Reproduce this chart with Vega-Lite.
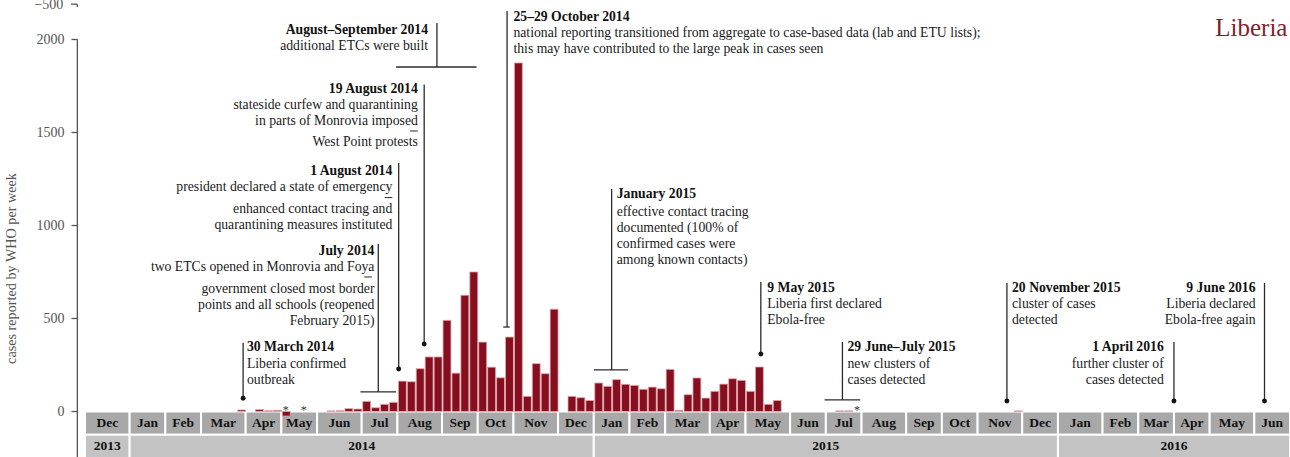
{
  "$schema": "https://vega.github.io/schema/vega-lite/v6.json",
  "width": 1205,
  "height": 457,
  "autosize": {"type": "none"},
  "padding": {"left": 85, "top": 0, "right": 0, "bottom": 0},
  "config": {"font": "Liberation Serif", "view": {"stroke": null}},
  "datasets": {
    "weekly": [
      {"week":"2014-03-30","cases":8},{"week":"2014-04-13","cases":10},{"week":"2014-04-20","cases":4},{"week":"2014-04-27","cases":6},
      {"week":"2014-05-04","cases":-25},{"week":"2014-06-08","cases":3},{"week":"2014-06-15","cases":4},{"week":"2014-06-22","cases":15},
      {"week":"2014-06-29","cases":13},{"week":"2014-07-06","cases":54},{"week":"2014-07-13","cases":20},{"week":"2014-07-20","cases":38},
      {"week":"2014-07-27","cases":49},{"week":"2014-08-03","cases":163},{"week":"2014-08-10","cases":160},{"week":"2014-08-17","cases":230},
      {"week":"2014-08-24","cases":293},{"week":"2014-08-31","cases":293},{"week":"2014-09-07","cases":490},{"week":"2014-09-14","cases":206},
      {"week":"2014-09-21","cases":625},{"week":"2014-09-28","cases":750},{"week":"2014-10-05","cases":373},{"week":"2014-10-12","cases":238},
      {"week":"2014-10-19","cases":181},{"week":"2014-10-26","cases":400},{"week":"2014-11-02","cases":1874},{"week":"2014-11-09","cases":81},
      {"week":"2014-11-16","cases":257},{"week":"2014-11-23","cases":203},{"week":"2014-11-30","cases":550},{"week":"2014-12-14","cases":81},
      {"week":"2014-12-21","cases":74},{"week":"2014-12-28","cases":59},{"week":"2015-01-04","cases":153},{"week":"2015-01-11","cases":135},
      {"week":"2015-01-18","cases":171},{"week":"2015-01-25","cases":146},{"week":"2015-02-01","cases":140},{"week":"2015-02-08","cases":119},
      {"week":"2015-02-15","cases":131},{"week":"2015-02-22","cases":122},{"week":"2015-03-01","cases":226},{"week":"2015-03-08","cases":6},
      {"week":"2015-03-15","cases":90},{"week":"2015-03-22","cases":180},{"week":"2015-03-29","cases":72},{"week":"2015-04-05","cases":108},
      {"week":"2015-04-12","cases":147},{"week":"2015-04-19","cases":176},{"week":"2015-04-26","cases":167},{"week":"2015-05-03","cases":108},
      {"week":"2015-05-10","cases":239},{"week":"2015-05-17","cases":38},{"week":"2015-05-24","cases":59},{"week":"2015-07-12","cases":3},
      {"week":"2015-07-19","cases":3},{"week":"2015-11-29","cases":3}
    ],
    "stars": [{"week":"2014-05-04"},{"week":"2014-05-18"},{"week":"2015-07-26"}],
    "months": [
      {"start":"2013-12-01","end":"2014-01-05","label":"Dec"},{"start":"2014-01-05","end":"2014-02-02","label":"Jan"},
      {"start":"2014-02-02","end":"2014-03-02","label":"Feb"},{"start":"2014-03-02","end":"2014-04-06","label":"Mar"},
      {"start":"2014-04-06","end":"2014-05-04","label":"Apr"},{"start":"2014-05-04","end":"2014-06-01","label":"May"},
      {"start":"2014-06-01","end":"2014-07-06","label":"Jun"},{"start":"2014-07-06","end":"2014-08-03","label":"Jul"},
      {"start":"2014-08-03","end":"2014-09-07","label":"Aug"},{"start":"2014-09-07","end":"2014-10-05","label":"Sep"},
      {"start":"2014-10-05","end":"2014-11-02","label":"Oct"},{"start":"2014-11-02","end":"2014-12-07","label":"Nov"},
      {"start":"2014-12-07","end":"2015-01-04","label":"Dec"},{"start":"2015-01-04","end":"2015-02-01","label":"Jan"},
      {"start":"2015-02-01","end":"2015-03-01","label":"Feb"},{"start":"2015-03-01","end":"2015-04-05","label":"Mar"},
      {"start":"2015-04-05","end":"2015-05-03","label":"Apr"},{"start":"2015-05-03","end":"2015-06-07","label":"May"},
      {"start":"2015-06-07","end":"2015-07-05","label":"Jun"},{"start":"2015-07-05","end":"2015-08-02","label":"Jul"},
      {"start":"2015-08-02","end":"2015-09-06","label":"Aug"},{"start":"2015-09-06","end":"2015-10-04","label":"Sep"},
      {"start":"2015-10-04","end":"2015-11-01","label":"Oct"},{"start":"2015-11-01","end":"2015-12-06","label":"Nov"},
      {"start":"2015-12-06","end":"2016-01-03","label":"Dec"},{"start":"2016-01-03","end":"2016-02-07","label":"Jan"},
      {"start":"2016-02-07","end":"2016-03-06","label":"Feb"},{"start":"2016-03-06","end":"2016-04-03","label":"Mar"},
      {"start":"2016-04-03","end":"2016-05-01","label":"Apr"},{"start":"2016-05-01","end":"2016-06-05","label":"May"},
      {"start":"2016-06-05","end":"2016-07-03","label":"Jun"}
    ],
    "years": [
      {"start":"2013-12-01","end":"2014-01-05","label":"2013"},{"start":"2014-01-05","end":"2015-01-04","label":"2014"},
      {"start":"2015-01-04","end":"2016-01-03","label":"2015"},{"start":"2016-01-03","end":"2016-07-03","label":"2016"}
    ],
    "vlines": [
      {"date":"2014-04-04","top":370,"bottom":71},{"date":"2014-07-19","top":900,"bottom":105},
      {"date":"2014-08-04","top":1336,"bottom":228},{"date":"2014-08-24","top":1758,"bottom":363},
      {"date":"2014-09-03","top":2089,"bottom":1852},{"date":"2014-10-28","top":2153,"bottom":454},
      {"date":"2015-01-18","top":1196,"bottom":223},{"date":"2015-05-15","top":696,"bottom":309},
      {"date":"2015-07-18","top":374,"bottom":62},{"date":"2015-11-24","top":691,"bottom":56},
      {"date":"2016-04-03","top":374,"bottom":56},{"date":"2016-06-13","top":691,"bottom":56}
    ],
    "brackets": [
      {"start":"2014-07-05","end":"2014-08-02","y":105},{"start":"2014-08-02","end":"2014-10-04","y":1852},
      {"start":"2014-10-25","end":"2014-10-30","y":454},{"start":"2015-01-04","end":"2015-01-31","y":223},
      {"start":"2015-07-04","end":"2015-08-01","y":62}
    ],
    "separators": [
      {"start":"2014-07-08","end":"2014-07-14","y":723},{"start":"2014-07-24","end":"2014-07-30","y":1150},
      {"start":"2014-08-13","end":"2014-08-19","y":1508}
    ],
    "dots": [
      {"date":"2014-04-04","y":71},{"date":"2014-08-04","y":228},{"date":"2014-08-24","y":363},
      {"date":"2015-05-15","y":309},{"date":"2015-11-24","y":56},{"date":"2016-04-03","y":56},{"date":"2016-06-13","y":56}
    ],
    "boldLeft": [
      {"date":"2014-04-07","y":323,"text":"30 March 2014"},{"date":"2014-11-02","y":2101,"text":"25–29 October 2014"},
      {"date":"2015-01-22","y":1148,"text":"January 2015"},{"date":"2015-05-20","y":642,"text":"9 May 2015"},
      {"date":"2015-07-22","y":325,"text":"29 June–July 2015"},{"date":"2015-11-28","y":642,"text":"20 November 2015"}
    ],
    "bodyLeft": [
      {"date":"2014-04-07","y":232,"text":"Liberia confirmed\noutbreak"},
      {"date":"2014-11-02","y":2013,"text":"national reporting transitioned from aggregate to case-based data (lab and ETU lists);\nthis may have contributed to the large peak in cases seen"},
      {"date":"2015-01-22","y":1051,"text":"effective contact tracing\ndocumented (100% of\nconfirmed cases were\namong known contacts)"},
      {"date":"2015-05-20","y":556,"text":"Liberia first declared\nEbola-free"},
      {"date":"2015-07-22","y":234,"text":"new clusters of\ncases detected"},
      {"date":"2015-11-28","y":556,"text":"cluster of cases\ndetected"}
    ],
    "boldRight": [
      {"date":"2014-07-16","y":841,"text":"July 2014"},{"date":"2014-07-30","y":1273,"text":"1 August 2014"},
      {"date":"2014-08-19","y":1712,"text":"19 August 2014"},{"date":"2014-08-27","y":2030,"text":"August–September 2014"},
      {"date":"2016-03-26","y":325,"text":"1 April 2016"},{"date":"2016-06-06","y":642,"text":"9 June 2016"}
    ],
    "bodyRight": [
      {"date":"2014-07-16","y":755,"text":"two ETCs opened in Monrovia and Foya"},
      {"date":"2014-07-16","y":637,"text":"government closed most border\npoints and all schools (reopened\nFebruary  2015)"},
      {"date":"2014-07-30","y":1185,"text":"president declared a state of emergency"},
      {"date":"2014-07-30","y":1067,"text":"enhanced contact tracing and\nquarantining measures instituted"},
      {"date":"2014-08-19","y":1626,"text":"stateside curfew and quarantining\nin parts of Monrovia imposed"},
      {"date":"2014-08-19","y":1425,"text":"West Point protests"},
      {"date":"2014-08-27","y":1946,"text":"additional ETCs were built"},
      {"date":"2016-03-26","y":234,"text":"further cluster of\ncases detected"},
      {"date":"2016-06-06","y":556,"text":"Liberia declared\nEbola-free again"}
    ]
  },
  "layer": [
    {
      "data": {"name": "weekly"},
      "mark": {"type": "bar", "fill": "#850f1f", "stroke": "#e4a7ae", "strokeWidth": 0.8, "timeUnitBandSize": 0.82, "opacity": 0},
      "encoding": {
        "x": {"field": "week", "timeUnit": "utcyearweek", "type": "temporal", "axis": null,
              "scale": {"type": "utc", "nice": false, "domain": [{"year": 2013, "month": 12, "date": 1, "utc": true}, {"year": 2016, "month": 7, "date": 3, "utc": true}]}},
        "y": {"field": "cases", "type": "quantitative",
              "scale": {"domain": [-245, 2212.4], "nice": false, "zero": false},
              "axis": {"values": [0, 500, 1000, 1500, 2000], "format": "d", "offset": 8, "domain": false, "grid": false,
                       "tickSize": 6, "tickColor": "#555", "tickWidth": 1.3,
                       "labelColor": "#555", "labelFontSize": 14, "labelPadding": 7, "labelFont": "Liberation Serif",
                       "title": "cases reported by WHO per week", "titleFont": "Liberation Serif", "titleFontSize": 14.2,
                       "titleFontWeight": "normal", "titleColor": "#555", "titleAngle": -90, "titleX": -66, "titleY": 268,
                       "titleAlign": "center", "titleBaseline": "middle"}}
      }
    },
    {
      "data": {"name": "months"},
      "mark": {"type": "rect", "fill": "#a8a8a8", "stroke": "white", "strokeWidth": 2},
      "encoding": {
        "x": {"field": "start", "type": "temporal"},
        "x2": {"field": "end"},
        "y": {"datum": 0, "type": "quantitative"},
        "y2": {"datum": -126}
      }
    },
    {
      "data": {"name": "years"},
      "mark": {"type": "rect", "fill": "#c3c3c3", "stroke": "white", "strokeWidth": 2},
      "encoding": {
        "x": {"field": "start", "type": "temporal"},
        "x2": {"field": "end"},
        "y": {"datum": -126, "type": "quantitative"},
        "y2": {"datum": -262}
      }
    },
    {
      "data": {"name": "months"},
      "transform": [{"calculate": "(time(toDate(datum.start)) + time(toDate(datum.end))) / 2", "as": "mid"}],
      "mark": {"type": "text", "fontWeight": "bold", "fontSize": 13.5, "color": "#111", "baseline": "alphabetic", "align": "center"},
      "encoding": {
        "x": {"field": "mid", "type": "temporal"},
        "y": {"datum": -86, "type": "quantitative"},
        "text": {"field": "label", "type": "nominal"}
      }
    },
    {
      "data": {"name": "years"},
      "transform": [{"calculate": "(time(toDate(datum.start)) + time(toDate(datum.end))) / 2", "as": "mid"}],
      "mark": {"type": "text", "fontWeight": "bold", "fontSize": 13.5, "color": "#111", "baseline": "alphabetic", "align": "center"},
      "encoding": {
        "x": {"field": "mid", "type": "temporal"},
        "y": {"datum": -207, "type": "quantitative"},
        "text": {"field": "label", "type": "nominal"}
      }
    },
    {
      "data": {"name": "weekly"},
      "mark": {"type": "bar", "fill": "#850f1f", "stroke": "#e4a7ae", "strokeWidth": 0.8, "timeUnitBandSize": 0.82},
      "encoding": {
        "x": {"field": "week", "timeUnit": "utcyearweek", "type": "temporal"},
        "y": {"field": "cases", "type": "quantitative"}
      }
    },
    {
      "data": {"name": "stars"},
      "mark": {"type": "text", "text": "*", "fontSize": 12, "dy": 3, "color": "#333", "baseline": "alphabetic"},
      "encoding": {
        "x": {"field": "week", "timeUnit": "utcyearweek", "type": "temporal", "bandPosition": 0.5},
        "y": {"datum": 0, "type": "quantitative"}
      }
    },
    {
      "data": {"values": [{}]},
      "mark": {"type": "rule", "color": "#555", "strokeWidth": 1.3},
      "encoding": {
        "x": {"datum": {"year": 2013, "month": 11, "date": 25, "utc": true}, "type": "temporal"},
        "y": {"datum": -245, "type": "quantitative"},
        "y2": {"datum": 2000}
      }
    },
    {
      "data": {"values": [{}]},
      "mark": {"type": "rule", "color": "#555", "strokeWidth": 1.3},
      "encoding": {
        "x": {"datum": {"year": 2013, "month": 11, "date": 20, "utc": true}, "type": "temporal"},
        "x2": {"datum": {"year": 2013, "month": 11, "date": 25, "utc": true}},
        "y": {"datum": 2190, "type": "quantitative"}
      }
    },
    {
      "data": {"values": [{}]},
      "mark": {"type": "rule", "color": "#555", "strokeWidth": 1.3},
      "encoding": {
        "x": {"datum": {"year": 2013, "month": 11, "date": 25, "utc": true}, "type": "temporal"},
        "y": {"datum": 2190, "type": "quantitative"},
        "y2": {"datum": 2175}
      }
    },
    {
      "data": {"values": [{}]},
      "mark": {"type": "text", "text": "−500", "fontSize": 14, "color": "#555", "align": "right", "baseline": "alphabetic", "dx": -14},
      "encoding": {
        "x": {"datum": {"year": 2013, "month": 11, "date": 25, "utc": true}, "type": "temporal"},
        "y": {"datum": 2165, "type": "quantitative"}
      }
    },
    {
      "data": {"name": "vlines"},
      "mark": {"type": "rule", "color": "#2a2a2a", "strokeWidth": 1.3},
      "encoding": {
        "x": {"field": "date", "type": "temporal"},
        "y": {"field": "top", "type": "quantitative"},
        "y2": {"field": "bottom"}
      }
    },
    {
      "data": {"name": "brackets"},
      "mark": {"type": "rule", "color": "#2a2a2a", "strokeWidth": 1.3},
      "encoding": {
        "x": {"field": "start", "type": "temporal"},
        "x2": {"field": "end"},
        "y": {"field": "y", "type": "quantitative"}
      }
    },
    {
      "data": {"name": "separators"},
      "mark": {"type": "rule", "color": "#2a2a2a", "strokeWidth": 1},
      "encoding": {
        "x": {"field": "start", "type": "temporal"},
        "x2": {"field": "end"},
        "y": {"field": "y", "type": "quantitative"}
      }
    },
    {
      "data": {"name": "dots"},
      "mark": {"type": "point", "filled": true, "color": "#111", "size": 24, "opacity": 1},
      "encoding": {
        "x": {"field": "date", "type": "temporal"},
        "y": {"field": "y", "type": "quantitative"}
      }
    },
    {
      "data": {"name": "boldLeft"},
      "mark": {"type": "text", "fontWeight": "bold", "fontSize": 13.7, "color": "#111", "align": "left", "baseline": "alphabetic"},
      "encoding": {
        "x": {"field": "date", "type": "temporal"},
        "y": {"field": "y", "type": "quantitative"},
        "text": {"field": "text", "type": "nominal"}
      }
    },
    {
      "data": {"name": "bodyLeft"},
      "mark": {"type": "text", "fontSize": 13.7, "color": "#1a1a1a", "align": "left", "baseline": "alphabetic", "lineBreak": "\n", "lineHeight": 16},
      "encoding": {
        "x": {"field": "date", "type": "temporal"},
        "y": {"field": "y", "type": "quantitative"},
        "text": {"field": "text", "type": "nominal"}
      }
    },
    {
      "data": {"name": "boldRight"},
      "mark": {"type": "text", "fontWeight": "bold", "fontSize": 13.7, "color": "#111", "align": "right", "baseline": "alphabetic"},
      "encoding": {
        "x": {"field": "date", "type": "temporal"},
        "y": {"field": "y", "type": "quantitative"},
        "text": {"field": "text", "type": "nominal"}
      }
    },
    {
      "data": {"name": "bodyRight"},
      "mark": {"type": "text", "fontSize": 13.7, "color": "#1a1a1a", "align": "right", "baseline": "alphabetic", "lineBreak": "\n", "lineHeight": 16},
      "encoding": {
        "x": {"field": "date", "type": "temporal"},
        "y": {"field": "y", "type": "quantitative"},
        "text": {"field": "text", "type": "nominal"}
      }
    },
    {
      "data": {"values": [{}]},
      "mark": {"type": "text", "text": "Liberia", "fontSize": 25, "color": "#8a1a2b", "align": "right", "baseline": "alphabetic"},
      "encoding": {
        "x": {"datum": {"year": 2016, "month": 7, "date": 1, "utc": true}, "type": "temporal"},
        "y": {"datum": 2019, "type": "quantitative"}
      }
    }
  ]
}
